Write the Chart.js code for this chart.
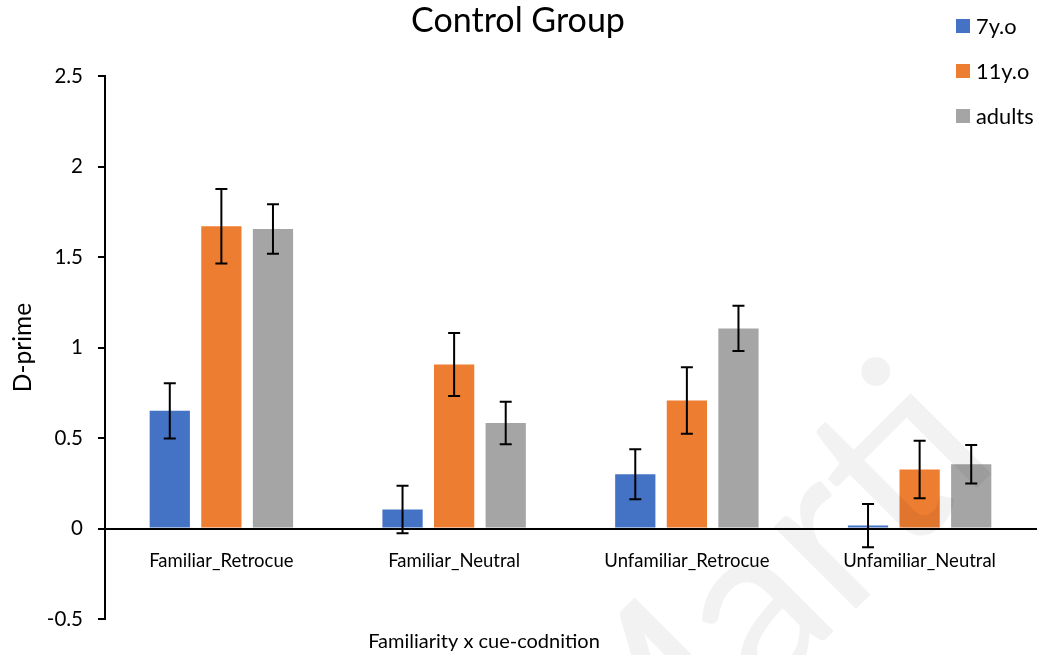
<!DOCTYPE html>
<html lang="en">
<head>
<meta charset="UTF-8">
<title>Control Group</title>
<script src="https://cdn.jsdelivr.net/npm/chart.js"></script>
<style>
    body {
        margin: 0;
        background: #fff;
    }

    #wrap {
        width: 1038px;
        height: 655px;
    }
</style>
</head>
<body>
<div id="wrap"><canvas id="grafico" width="1038" height="655"></canvas></div>
<script>
    // data
    const categories = ['Familiar_Retrocue', 'Familiar_Neutral', 'Unfamiliar_Retrocue', 'Unfamiliar_Neutral'];
    const seriesNames = ['7y.o', '11y.o', 'adults'];
    const seven = [0.65, 0.105, 0.30, 0.016];
    const sevenErr = [0.153, 0.131, 0.138, 0.12];
    const eleven = [1.67, 0.906, 0.707, 0.326];
    const elevenErr = [0.206, 0.174, 0.184, 0.159];
    const adults = [1.655, 0.583, 1.105, 0.355];
    const adultsErr = [0.137, 0.117, 0.125, 0.106];
    const yTicks = [-0.5, 0, 0.5, 1, 1.5, 2, 2.5];

    const colors = ['#4472C4', '#ED7D31', '#A5A5A5'];
    const FONT = 'Lato';

    Chart.defaults.font.family = FONT;
    Chart.defaults.color = '#000';

    // error bars on top of each bar
    const errorBars = {
        id: 'errorBars',
        afterDatasetsDraw(chart) {
            const ctx = chart.ctx;
            const y = chart.scales.y;
            ctx.save();
            ctx.strokeStyle = '#000';
            ctx.lineWidth = 2;
            chart.data.datasets.forEach((ds, i) => {
                const meta = chart.getDatasetMeta(i);
                meta.data.forEach((bar, j) => {
                    const v = ds.data[j], e = ds.errors[j];
                    const top = y.getPixelForValue(v + e);
                    const bot = y.getPixelForValue(v - e);
                    ctx.beginPath();
                    ctx.moveTo(bar.x, top); ctx.lineTo(bar.x, bot);
                    ctx.moveTo(bar.x - 6, top); ctx.lineTo(bar.x + 6, top);
                    ctx.moveTo(bar.x - 6, bot); ctx.lineTo(bar.x + 6, bot);
                    ctx.stroke();
                });
            });
            ctx.restore();
        }
    };

    // title, legend, x title and the faint watermark
    const extras = {
        id: 'extras',
        afterDraw(chart) {
            const ctx = chart.ctx;
            ctx.save();
            ctx.fillStyle = '#000';
            ctx.textBaseline = 'alphabetic';

            ctx.font = '34px ' + FONT;
            ctx.textAlign = 'center';
            ctx.fillText('Control Group', 518, 32);

            ctx.font = '20px ' + FONT;
            ctx.fillText('Familiarity x cue-codnition', 484, 648);

            ctx.textAlign = 'left';
            ctx.font = '21.8px ' + FONT;
            chart.data.datasets.forEach((ds, i) => {
                const cy = 26 + i * 45;
                ctx.fillStyle = ds.backgroundColor;
                ctx.fillRect(956, cy - 7, 14, 14);
                ctx.fillStyle = '#000';
                ctx.fillText(ds.label, 976, cy + 7.5);
            });

            ctx.translate(615, 850);
            ctx.rotate(-Math.PI / 4);
            ctx.font = '230px ' + FONT;
            ctx.fillStyle = 'rgba(0,0,0,0.05)';
            ctx.fillText('Marti', 0, 0);
            ctx.restore();
        }
    };

    const ctx = document.getElementById('grafico').getContext('2d');

    new Chart(ctx, {
        type: 'bar',
        data: {
            labels: categories,
            datasets: [
                { label: seriesNames[0], data: seven, errors: sevenErr, backgroundColor: colors[0] },
                { label: seriesNames[1], data: eleven, errors: elevenErr, backgroundColor: colors[1] },
                { label: seriesNames[2], data: adults, errors: adultsErr, backgroundColor: colors[2] }
            ]
        },
        options: {
            responsive: false,
            animation: false,
            devicePixelRatio: 1,
            categoryPercentage: 0.665,
            barPercentage: 0.78,
            layout: {
                padding: { top: 76, right: 2, bottom: 36, left: 0 }
            },
            plugins: {
                legend: { display: false },
                title: { display: false },
                tooltip: { enabled: false }
            },
            scales: {
                x: {
                    position: { y: 0 },
                    grid: { display: false },
                    border: { display: true, color: '#000', width: 2 },
                    ticks: { font: { size: 18.5 }, color: '#000', padding: 13 }
                },
                y: {
                    min: -0.5,
                    max: 2.5,
                    afterBuildTicks(scale) {
                        scale.ticks = yTicks.map(v => ({ value: v }));
                    },
                    afterFit(scale) {
                        scale.width = 105;
                    },
                    grid: { drawOnChartArea: false, drawTicks: true, tickLength: 7, tickColor: '#000', lineWidth: 2 },
                    border: { display: true, color: '#000', width: 2 },
                    ticks: {
                        font: { size: 20.5 },
                        color: '#000',
                        padding: 15,
                        callback: v => String(v)
                    },
                    title: {
                        display: true,
                        text: 'D-prime',
                        font: { size: 24.5 },
                        color: '#000',
                        padding: { top: 8, bottom: 0 }
                    }
                }
            }
        },
        plugins: [errorBars, extras]
    });
</script>
</body>
</html>
